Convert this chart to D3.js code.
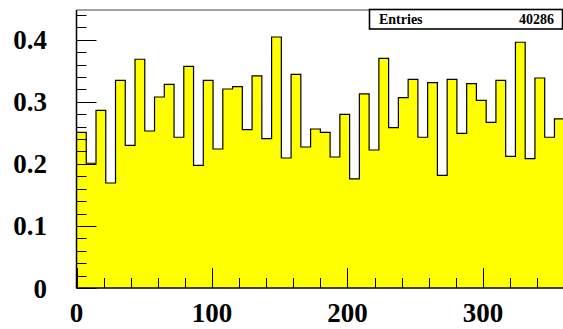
<!DOCTYPE html>
<html>
<head>
<meta charset="utf-8">
<script src="https://cdn.jsdelivr.net/npm/d3@7"></script>
<style>
  html, body { margin: 0; padding: 0; background: #fff; }
  svg { display: block; }
  text { font-family: "Liberation Serif", "Times New Roman", serif; font-weight: bold; fill: #000; }
</style>
</head>
<body>
<svg id="chart" width="563" height="329"></svg>
<script>
// Histogram: 50 bins over [0, 360]
const binLow = 0;
const binHigh = 360;
const binContents = [
  0.2509, 0.2010, 0.2864, 0.1692, 0.3347, 0.2300, 0.3686, 0.2530, 0.3078, 0.3283,
  0.2429, 0.3573, 0.1977, 0.3347, 0.2240, 0.3207, 0.3244, 0.2551, 0.3417, 0.2406,
  0.4045, 0.2095, 0.3444, 0.2272, 0.2562, 0.2509, 0.2111, 0.2799, 0.1757, 0.3127,
  0.2224, 0.3702, 0.2583, 0.3067, 0.3363, 0.2429, 0.3309, 0.1816, 0.3363, 0.2493,
  0.3292, 0.3025, 0.2670, 0.3347, 0.2122, 0.3960, 0.2084, 0.3384, 0.2429, 0.2724
];
const xTickValues = [0, 100, 200, 300];
const yTickValues = [0, 0.1, 0.2, 0.3, 0.4];
const yMax = 0.448;
const statsLabel = "Entries";
const statsValue = "40286";

const svg = d3.select("#chart");
const padLeft = 76.5, padRight = 564.2, padTop = 10, padBottom = 288;

const x = d3.scaleLinear().domain([binLow, binHigh]).range([padLeft, padRight]);
const y = d3.scaleLinear().domain([0, yMax]).range([padBottom, padTop]);

const nBins = binContents.length;
const bw = (binHigh - binLow) / nBins;

// step outline of the histogram
const pts = [[binLow, 0]];
binContents.forEach((v, i) => {
  pts.push([binLow + i * bw, v]);
  pts.push([binLow + (i + 1) * bw, v]);
});
pts.push([binHigh, 0]);

const line = d3.line().x(d => x(d[0])).y(d => y(d[1]));

svg.append("path")
  .attr("d", line(pts) + "Z")
  .attr("fill", "#ffff00")
  .attr("stroke", "none");

svg.append("path")
  .attr("d", line(pts.slice(1, -1)))
  .attr("fill", "none")
  .attr("stroke", "#000")
  .attr("stroke-width", 1.2);

// frame: top, left and bottom lines
svg.append("line").attr("x1", padLeft).attr("x2", 563).attr("y1", padTop).attr("y2", padTop)
  .attr("stroke", "#444").attr("stroke-width", 1.2);
svg.append("line").attr("x1", padLeft).attr("x2", padLeft).attr("y1", padTop).attr("y2", padBottom)
  .attr("stroke", "#000").attr("stroke-width", 1.5);
svg.append("line").attr("x1", padLeft).attr("x2", 563).attr("y1", padBottom).attr("y2", padBottom)
  .attr("stroke", "#000").attr("stroke-width", 1.5);

// y axis ticks (major 0.1, minor 0.02), pointing inward
const yMinor = d3.range(0, yMax + 1e-9, 0.02);
const yAxisG = svg.append("g");
yAxisG.selectAll("line").data(yMinor).join("line")
  .attr("x1", padLeft).attr("x2", d => padLeft + (Math.abs(d * 10 - Math.round(d * 10)) < 1e-6 ? 20 : 10))
  .attr("y1", d => Math.round(y(d)) + 0.5).attr("y2", d => Math.round(y(d)) + 0.5)
  .attr("stroke", "#000").attr("stroke-width", 1);
yAxisG.selectAll("text").data(yTickValues).join("text")
  .attr("x", 47)
  .attr("y", d => y(d) + 9.5)
  .attr("text-anchor", "end")
  .attr("font-size", 27)
  .text(d => d3.format("~g")(d));

// x axis ticks (major 100, minor 20), pointing inward
const xMinor = d3.range(0, binHigh + 1e-9, 20);
const xAxisG = svg.append("g");
xAxisG.selectAll("line").data(xMinor).join("line")
  .attr("x1", d => Math.round(x(d)) + 0.5).attr("x2", d => Math.round(x(d)) + 0.5)
  .attr("y1", padBottom).attr("y2", d => padBottom - (d % 100 === 0 ? 20 : 10))
  .attr("stroke", "#000").attr("stroke-width", 1);
xAxisG.selectAll("text").data(xTickValues).join("text")
  .attr("x", d => x(d))
  .attr("y", 321.5)
  .attr("text-anchor", "middle")
  .attr("font-size", 27)
  .text(d => d);

// statistics box
const stats = svg.append("g");
stats.append("rect")
  .attr("x", 369.5).attr("y", 9.5).attr("width", 193).attr("height", 19.5)
  .attr("fill", "#fff").attr("stroke", "#000").attr("stroke-width", 1.6);
stats.append("text").attr("x", 379).attr("y", 24).attr("font-size", 14).text(statsLabel);
stats.append("text").attr("x", 554).attr("y", 24).attr("font-size", 14)
  .attr("text-anchor", "end").text(statsValue);
</script>
</body>
</html>
